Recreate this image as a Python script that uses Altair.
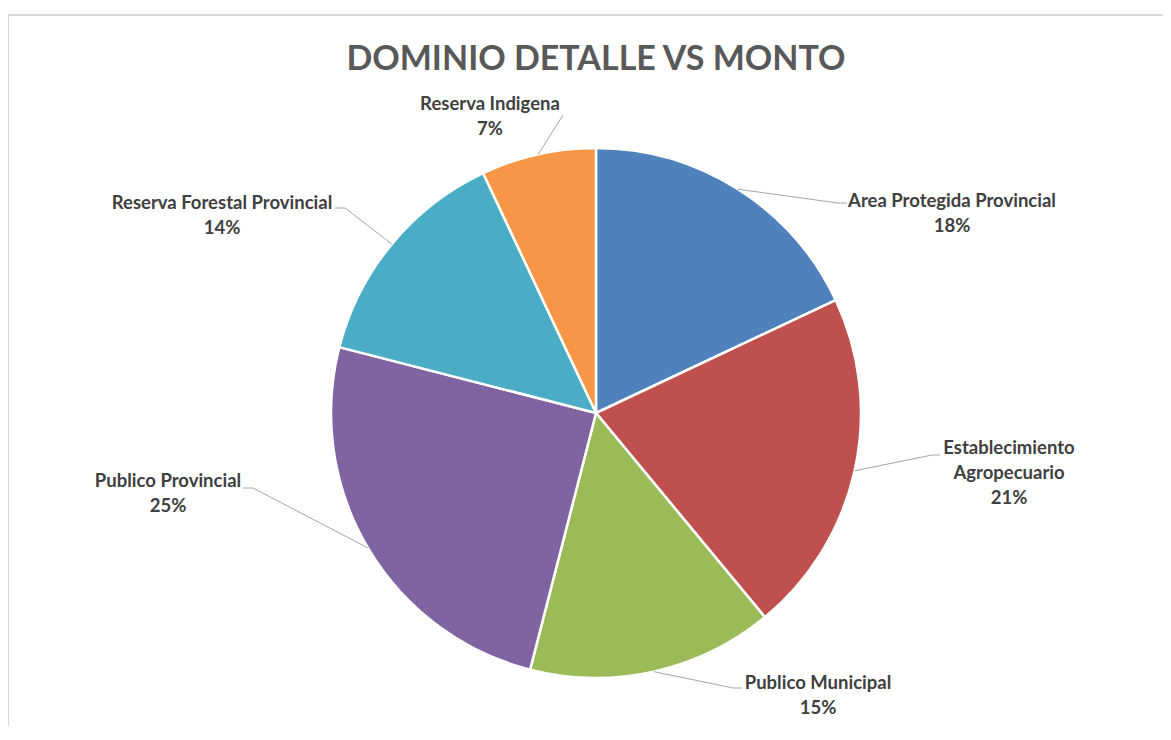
import math
import altair as alt
import pandas as pd

# ---- data ----
categories = [
    "Area Protegida Provincial",
    "Establecimiento Agropecuario",
    "Publico Municipal",
    "Publico Provincial",
    "Reserva Forestal Provincial",
    "Reserva Indigena",
]
values = [18, 21, 15, 25, 14, 7]
colors = ["#4F81BD", "#C0504D", "#9BBB59", "#8064A2", "#4BACC6", "#F79646"]
label_lines = [
    ["Area Protegida Provincial"],
    ["Establecimiento", "Agropecuario"],
    ["Publico Municipal"],
    ["Publico Provincial"],
    ["Reserva Forestal Provincial"],
    ["Reserva Indigena"],
]
title_text = "DOMINIO DETALLE VS MONTO"

# ---- layout (pixel positions within the chart) ----
W, H = 1155, 718
CX, CY, R = 588, 405, 265
label_x = [944, 1001, 810, 160, 214, 482]
label_y = [193, 440, 675, 473, 195, 96]     # centre of first text line
elbow_x = [830, 924, 725, 245, 337, 555]
elbow_y = [195, 447, 680, 480, 200, 107]
end_x = [839, 932, 734, 235, 327, 555]
end_y = [195, 447, 680, 480, 200, 107]

total = sum(values)
df = pd.DataFrame({
    "cat": categories,
    "value": values,
    "order": list(range(len(categories))),
})

# labels
lab_rows = []
for i, c in enumerate(categories):
    pct = f"{round(values[i] / total * 100):d}%"
    lab_rows.append({"cat": c, "text": "\n".join(label_lines[i] + [pct]),
                     "lx": label_x[i], "ly": label_y[i]})
lab_df = pd.DataFrame(lab_rows)

# leader lines: start at slice edge (mid-angle derived from the values)
seg_rows = []
cum = 0
for i, c in enumerate(categories):
    mid = (cum + values[i] / 2) / total * 2 * math.pi
    cum += values[i]
    sx = CX + R * math.sin(mid)
    sy = CY - R * math.cos(mid)
    seg_rows.append({"cat": c, "x1": sx, "y1": sy, "x2": elbow_x[i], "y2": elbow_y[i]})
    if (end_x[i], end_y[i]) != (elbow_x[i], elbow_y[i]):
        seg_rows.append({"cat": c, "x1": elbow_x[i], "y1": elbow_y[i], "x2": end_x[i], "y2": end_y[i]})
seg_df = pd.DataFrame(seg_rows)

pie = alt.Chart(df).mark_arc(outerRadius=R, stroke="white", strokeWidth=2.5).encode(
    theta=alt.Theta("value:Q", stack=True),
    order=alt.Order("order:Q"),
    color=alt.Color("cat:N", scale=alt.Scale(domain=categories, range=colors), legend=None),
    x=alt.value(CX),
    y=alt.value(CY),
)

leaders = alt.Chart(seg_df).mark_rule(color="#A6A6A6", strokeWidth=1).encode(
    x=alt.X("x1:Q", scale=None),
    y=alt.Y("y1:Q", scale=None),
    x2="x2:Q",
    y2="y2:Q",
)

labels = alt.Chart(lab_df).mark_text(
    font="Lato", fontWeight="bold", fontSize=18.5, color="#404040",
    lineBreak="\n", lineHeight=25, align="center", baseline="middle",
).encode(
    x=alt.X("lx:Q", scale=None),
    y=alt.Y("ly:Q", scale=None),
    text="text:N",
)

title = alt.Chart(pd.DataFrame({"t": [title_text]})).mark_text(
    font="Lato", fontWeight="bold", fontSize=34, color="#595959",
    align="center", baseline="alphabetic",
).encode(
    x=alt.value(588),
    y=alt.value(62),
    text="t:N",
)

frame_left = alt.Chart(pd.DataFrame({"k": [0]})).mark_rule(color="#D9D9D9", strokeWidth=2).encode(
    x=alt.value(0), y=alt.value(7), y2=alt.value(H)
)
frame_top = alt.Chart(pd.DataFrame({"k": [0]})).mark_rule(color="#D9D9D9", strokeWidth=2).encode(
    x=alt.value(0), x2=alt.value(W), y=alt.value(7)
)

chart = alt.layer(frame_left, frame_top, pie, leaders, labels, title).properties(
    width=W, height=H,
    autosize=alt.AutoSizeParams(type="none"),
    padding=0,
    background="white",
).configure_view(stroke=None)

chart.save("out.html", embed_options={"renderer": "svg", "actions": False})
